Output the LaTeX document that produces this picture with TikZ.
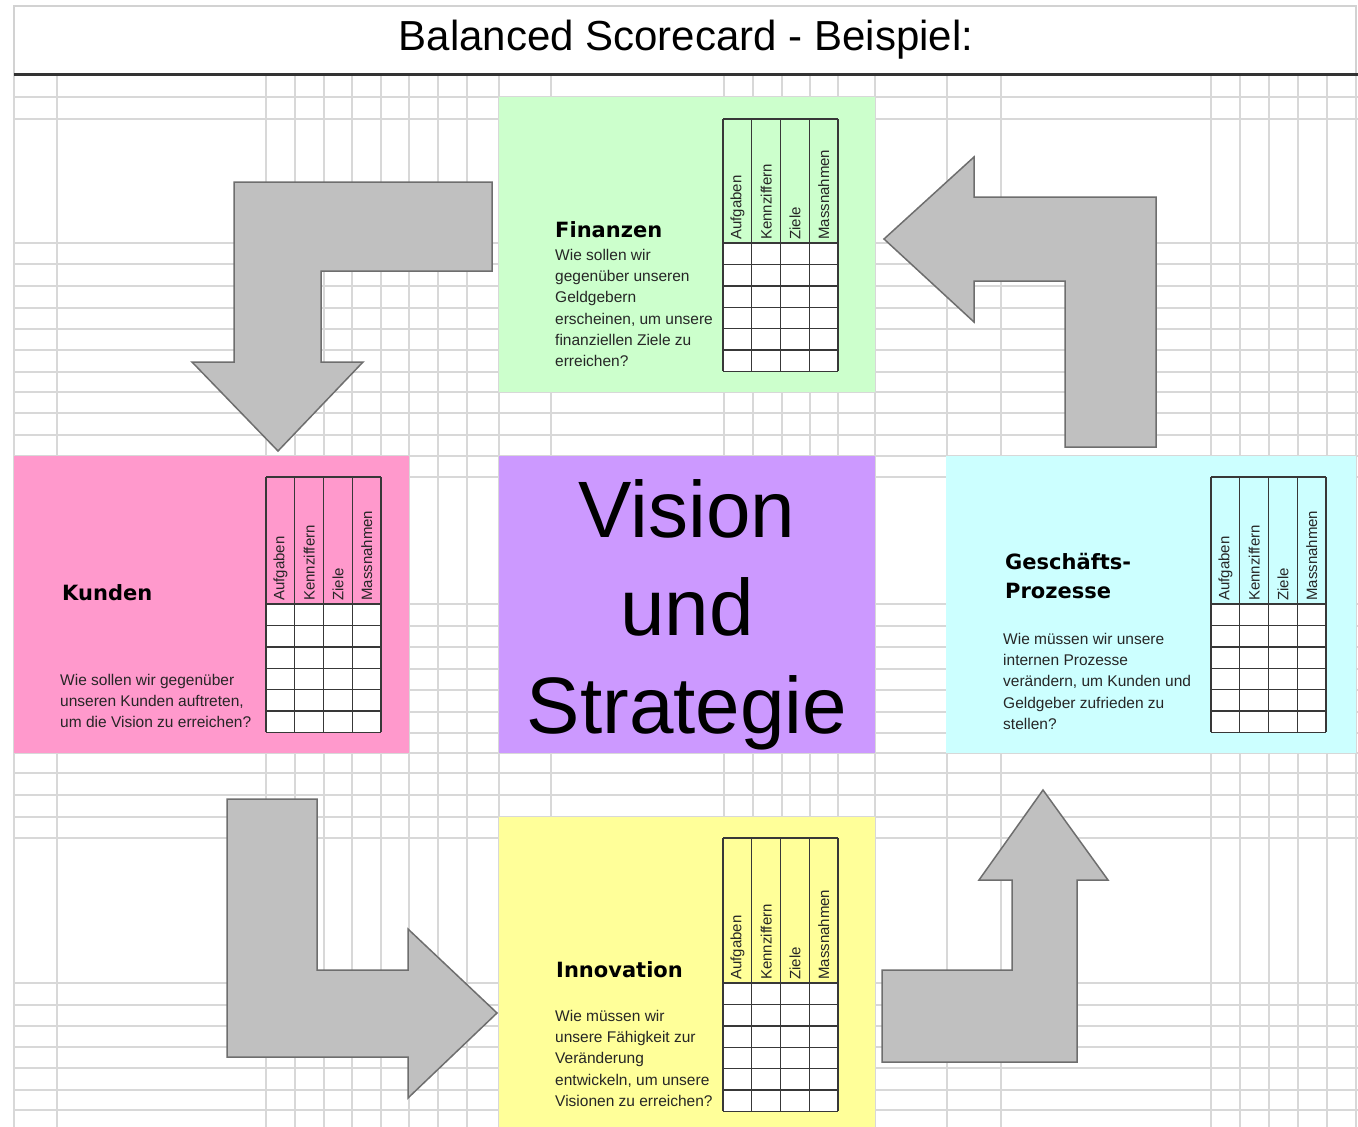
\documentclass[tikz,border=0pt]{standalone}
\usepackage{fontspec}
\setmainfont{Liberation Sans}
\newfontfamily\headfont{DejaVu Sans}
\definecolor{fincol}{HTML}{CCFFCC}
\definecolor{kuncol}{HTML}{FF99CC}
\definecolor{viscol}{HTML}{CC99FF}
\definecolor{geschcol}{HTML}{CCFFFF}
\definecolor{innocol}{HTML}{FFFF99}
\definecolor{arrowgray}{HTML}{C0C0C0}
\definecolor{arrowedge}{HTML}{6E6E6E}
\definecolor{gridcol}{HTML}{D8D8D8}
\newcommand{\sctable}[4]{%
  \fill[white] (#2,#4) rectangle ++(115,128.4);
  \foreach \i in {0,...,4} \draw[tbl] ({#2+\i*28.75},#3) -- ({#2+\i*28.75},{#4+128.4});
  \draw[tbl] (#2,#3) -- ++(115,0);
  \foreach \j in {0,...,6} \draw[tbl] (#2,{#4+\j*21.4}) -- ++(115,0);
  \foreach \t [count=\k from 0] in {Aufgaben,Kennziffern,Ziele,Massnahmen}
    \node[colhead] (#1-\k) at ({#2+\k*28.75+14.4},{#4-3}) {\t};
}
\begin{document}
\begin{tikzpicture}[x=1pt,y=-1pt,
  gridline/.style={draw=gridcol, line width=1.3pt},
  tbl/.style={draw=black!78, line width=1.4pt},
  boxnode/.style={anchor=north west, inner sep=0pt, outer sep=0pt, draw=none},
  blockarrow/.style={fill=arrowgray, draw=arrowedge, line width=1.5pt, line join=miter},
  hdr/.style={font=\headfont\bfseries\fontsize{21}{29}\selectfont, anchor=base west, inner sep=0pt},
  desc/.style={font=\fontsize{15.5}{21.2}\selectfont, align=left, anchor=north west, inner sep=0pt, text=black!85},
  colhead/.style={rotate=90, anchor=west, inner sep=0pt, font=\fontsize{15}{15}\selectfont, text=black!85},
  bigtext/.style={font=\fontsize{80}{98}\selectfont, anchor=base, inner sep=0pt}
]
\useasboundingbox (0,0) rectangle (1358,1127);
\fill[white] (0,0) rectangle (1358,1127);

% spreadsheet grid
\foreach \gx in {14,57,266,295,324,352,381,409,438,467,499,551,724,753,782,810,838,875,947,1001,1211,1240,1269,1298,1327,1356}
  \draw[gridline] (\gx,75) -- (\gx,1127);
\foreach \gy in {97,119,243,264,286,308,329,350,372,392,413,435,456,477,604,626,647,669,690,712,733,753,773,795,817,838,983,1005,1026,1047,1068,1090,1110}
  \draw[gridline] (14,\gy) -- (1358,\gy);

% title bar
\draw[draw=gray!35, line width=1.3pt, fill=white] (14,6) rectangle (1356,74);
\draw[draw=black!80, line width=3pt] (14,74.5) -- (1358,74.5);
\node[font=\fontsize{42}{50}\selectfont, anchor=base, inner sep=0pt] (title) at (686,50) {Balanced Scorecard - Beispiel:};

% coloured areas
\node[boxnode, fill=fincol, minimum width=376pt, minimum height=295pt] (finbox) at (499,97) {};
\node[boxnode, fill=kuncol, minimum width=395pt, minimum height=297pt] (kunbox) at (14,456) {};
\node[boxnode, fill=viscol, minimum width=376pt, minimum height=297pt] (visbox) at (499,456) {};
\node[boxnode, fill=geschcol, minimum width=410pt, minimum height=297pt] (geschbox) at (946,456) {};
\node[boxnode, fill=innocol, minimum width=376pt, minimum height=310pt] (innobox) at (499,817) {};

% tables
\sctable{fintab}{723}{119}{243}
\sctable{kuntab}{266}{477}{604}
\sctable{geschtab}{1211}{477}{604}
\sctable{innotab}{723}{838}{983}

% headings and questions
\node[hdr] (finhead) at (555,237) {Finanzen};
\node[desc] (findesc) at (555,249) {Wie sollen wir\\gegenüber unseren\\Geldgebern\\erscheinen, um unsere\\finanziellen Ziele zu\\erreichen?};

\node[hdr] (kunhead) at (62,600) {Kunden};
\node[desc] (kundesc) at (60,674) {Wie sollen wir gegenüber\\unseren Kunden auftreten,\\um die Vision zu erreichen?};

\node[hdr] (geschhead) at (1005,569) {Geschäfts-};
\node[hdr] (geschhead2) at (1005,598) {Prozesse};
\node[desc] (geschdesc) at (1003,633) {Wie müssen wir unsere\\internen Prozesse\\verändern, um Kunden und\\Geldgeber zufrieden zu\\stellen?};

\node[hdr] (innohead) at (556,977) {Innovation};
\node[desc] (innodesc) at (555,1010) {Wie müssen wir\\unsere Fähigkeit zur\\Veränderung\\entwickeln, um unsere\\Visionen zu erreichen?};

% centre
\node[bigtext] (vis1) at (687,537) {Vision};
\node[bigtext] (vis2) at (687,635) {und};
\node[bigtext] (vis3) at (687,733) {Strategie};

% bent block arrows
\draw[blockarrow] (492,182) -- (234,182) -- (234,362) -- (192,362) -- (278,451) -- (363,362) -- (321,362) -- (321,271) -- (492,271) -- cycle;
\draw[blockarrow] (884,239) -- (974,157) -- (974,197) -- (1156,197) -- (1156,447) -- (1065,447) -- (1065,281) -- (974,281) -- (974,322) -- cycle;
\draw[blockarrow] (227,799) -- (317,799) -- (317,970) -- (408,970) -- (408,929) -- (497,1013) -- (408,1098) -- (408,1057) -- (227,1057) -- cycle;
\draw[blockarrow] (1043,790) -- (1108,880) -- (1077,880) -- (1077,1062) -- (882,1062) -- (882,970) -- (1012,970) -- (1012,880) -- (979,880) -- cycle;
\end{tikzpicture}
\end{document}
